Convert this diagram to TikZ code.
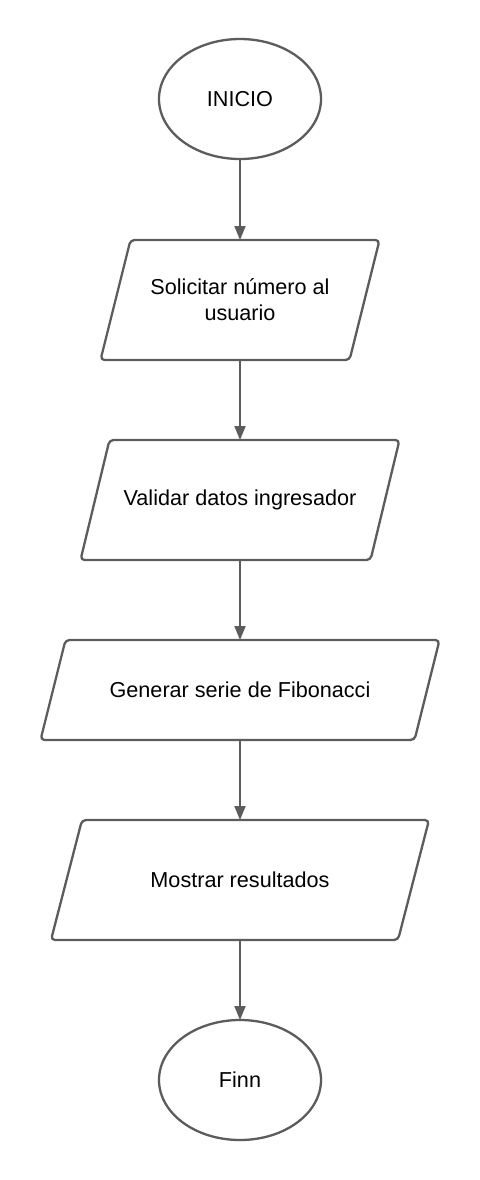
\documentclass[tikz,border=0pt]{standalone}
\usepackage{fontspec}
\setmainfont{Liberation Sans}
\usetikzlibrary{shapes.geometric,arrows.meta}
\definecolor{linegray}{HTML}{5C5C5C}
\tikzset{
  txt/.style={font=\fontsize{21.7}{26}\selectfont, text=black, align=center},
  term/.style={txt, ellipse, draw=linegray, line width=2.3bp, minimum width=162bp, minimum height=120bp, inner sep=0pt, outer sep=0pt},
  pbox/.style={txt, rectangle, draw=none, inner sep=0pt, outer sep=0pt},
  shp/.style={draw=linegray, line width=2.3bp, rounded corners=4bp, line join=round},
  conn/.style={draw=linegray, line width=2bp, -{Triangle[length=14bp,width=11bp]}}
}
\newcommand\paral[2]{%
  \draw[shp] ([xshift=#2*0.5bp]#1.north west) -- ([xshift=#2*0.5bp]#1.north east)
    -- ([xshift=-#2*0.5bp]#1.south east) -- ([xshift=-#2*0.5bp]#1.south west) -- cycle;}
\begin{document}
\begin{tikzpicture}[x=1bp,y=-1bp]
\useasboundingbox[fill=white] (0,0) rectangle (480,1180);
\node[term] (ini) at (240,99) {INICIO};
\node[pbox, minimum width=249bp, minimum height=120bp] (p1) at (240,300) {Solicitar número al\\usuario};
\node[pbox, minimum width=290bp, minimum height=120bp] (p2) at (240,500) {Validar datos ingresador};
\node[pbox, minimum width=374bp, minimum height=100bp] (p3) at (240,690) {Generar serie de Fibonacci};
\node[pbox, minimum width=347bp, minimum height=120bp] (p4) at (240,880) {Mostrar resultados};
\node[term] (fin) at (240,1080) {Finn};
\paral{p1}{30}
\paral{p2}{29}
\paral{p3}{25}
\paral{p4}{31}
\draw[conn] (ini.south) -- (p1.north);
\draw[conn] (p1.south) -- (p2.north);
\draw[conn] (p2.south) -- (p3.north);
\draw[conn] (p3.south) -- (p4.north);
\draw[conn] (p4.south) -- (fin.north);
\end{tikzpicture}
\end{document}
